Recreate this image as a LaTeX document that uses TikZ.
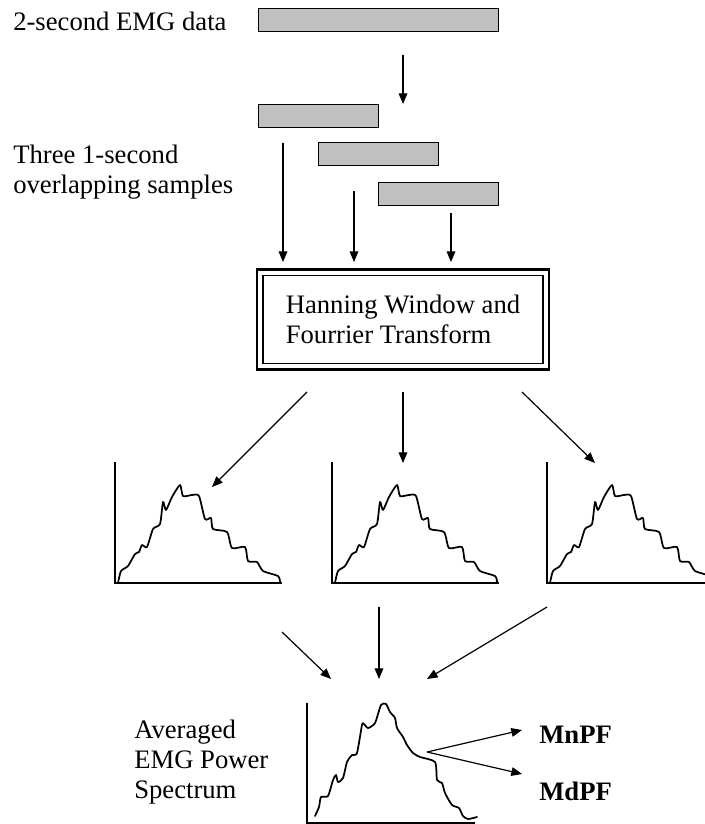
\documentclass[tikz,border=0pt]{standalone}
\usepackage{fontspec}
\setmainfont{Liberation Serif}
\usetikzlibrary{arrows.meta}
\definecolor{bargray}{HTML}{C0C0C0}

\begin{document}
\begin{tikzpicture}[x=0.75pt,y=-0.75pt,
  font=\fontsize{20}{22.5}\selectfont,
  lbl/.style={anchor=base west,inner sep=0pt,align=left},
  databar/.style={rectangle,draw,fill=bargray,line width=1.2pt,minimum height=17pt,inner sep=0pt,outer sep=0pt},
  fftbox/.style={rectangle,draw,line width=2pt,minimum width=219pt,minimum height=75pt,inner sep=0pt,outer sep=0pt,align=left},
  arr/.style={line width=0.9pt,-{Triangle[length=8pt,width=6.5pt]}},
  axis/.style={line width=1.5pt},
  curve/.style={line width=1.3pt,line join=round,line cap=round}]
\useasboundingbox (0,0) rectangle (704,824);

% labels
\node (emgtxt) [lbl] at (13,31) {2-second EMG data};
\node (samptxt) [lbl] at (13,193) {Three 1-second\\overlapping samples};
\node (avgtxt) [lbl] at (134,798) {Averaged\\EMG Power\\Spectrum};
\node (mnpf) [lbl,font=\fontsize{20}{22.5}\selectfont\bfseries] at (539,743) {MnPF};
\node (mdpf) [lbl,font=\fontsize{20}{22.5}\selectfont\bfseries] at (539,800) {MdPF};

% data bars
\node (emg) [databar,minimum width=180pt] at (378.5,20) {};
\node (samp1) [databar,minimum width=90pt] at (318.5,116) {};
\node (samp2) [databar,minimum width=90pt] at (378.5,154) {};
\node (samp3) [databar,minimum width=90pt] at (438.5,194) {};

% transform box
\node (fft) [fftbox] at (403,319.5) {Hanning Window and\\Fourrier Transform};
\draw[line width=1.1pt] ([shift={(6,6)}]fft.north west) rectangle ([shift={(-6,-6)}]fft.south east);

% arrow end points
\coordinate (emgout) at (403,55);   \coordinate (sampin) at (403,104);
\coordinate (s1out) at (283,143);   \coordinate (s1in) at (283,262);
\coordinate (s2out) at (354,191);   \coordinate (s2in) at (354,262);
\coordinate (s3out) at (451,213);   \coordinate (s3in) at (451,262);
\coordinate (f1out) at (307,392);   \coordinate (f1in) at (212,487);
\coordinate (f2out) at (403,392);   \coordinate (f2in) at (403,463);
\coordinate (f3out) at (522,392);   \coordinate (f3in) at (595,463);
\coordinate (p1out) at (282,632);   \coordinate (p1in) at (331,679);
\coordinate (p2out) at (379,607);   \coordinate (p2in) at (379,679);
\coordinate (p3out) at (547,607);   \coordinate (p3in) at (427,679);
\coordinate (avgout) at (427,752);
\coordinate (mnin) at (522,730);    \coordinate (mdin) at (522,774);

\draw[arr] (emgout) -- (sampin);
\draw[arr] (s1out) -- (s1in);
\draw[arr] (s2out) -- (s2in);
\draw[arr] (s3out) -- (s3in);
\draw[arr] (f1out) -- (f1in);
\draw[arr] (f2out) -- (f2in);
\draw[arr] (f3out) -- (f3in);
\draw[arr] (p1out) -- (p1in);
\draw[arr] (p2out) -- (p2in);
\draw[arr] (p3out) -- (p3in);
\draw[arr] (avgout) -- (mnin);
\draw[arr] (avgout) -- (mdin);

% three spectra
\foreach \cx in {115,332,547} {
  \draw[axis] (\cx,462) -- (\cx,583) -- (\cx+167,583);
  \draw[curve,shift={(\cx,583)}] plot[smooth,tension=0.4] coordinates {
    (3,0) (6,-12) (13,-17) (20,-29) (24,-31) (27,-38) (32,-36) (38,-54)
    (45,-59) (48,-81) (51,-73) (57,-86) (65,-98) (68,-87) (77,-88) (84,-87)
    (90,-64) (96,-65) (98,-54) (112,-51) (117,-35) (130,-36) (133,-22)
    (142,-21) (148,-12) (163,-7) (165,-1)};
}

% averaged spectrum
\draw[axis] (307,703) -- (307,823) -- (475,823);
\draw[curve,shift={(307,823)}] plot[smooth,tension=0.4] coordinates {
  (8,-7) (12,-16) (14,-26) (21,-27) (26,-43) (29,-48) (31,-41) (36,-45)
  (40,-61) (45,-68) (50,-70) (55,-98) (57,-99) (61,-95) (68,-100) (74,-118)
  (79,-119) (83,-111) (88,-105) (90,-95) (96,-86) (100,-78) (106,-70)
  (113,-66) (128,-61) (130,-43) (135,-40) (138,-30) (145,-18) (152,-15)
  (156,-7) (161,-4) (170,-6)};
\end{tikzpicture}
\end{document}
